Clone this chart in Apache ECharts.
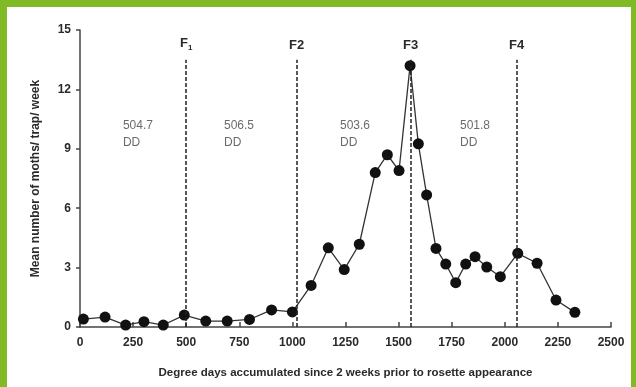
<!DOCTYPE html>
<html>
<head>
<meta charset="utf-8">
<script src="https://cdn.jsdelivr.net/npm/echarts@6/dist/echarts.min.js"></script>
<style>
  html, body { margin: 0; padding: 0; background: #80bb26; }
  #chart { position: absolute; left: 7px; top: 7px; width: 624px; height: 380px; background: #fff; }
</style>
</head>
<body>
<div id="chart"></div>
<script>
// degree days (x) and mean moths per trap per week (y)
var degreeDays = [16, 118, 215, 301, 392, 491, 592, 693, 798, 902, 1000, 1088, 1169, 1244, 1315, 1390,
  1447, 1502, 1554, 1593, 1632, 1676, 1722, 1769, 1816, 1860, 1915, 1979, 2061, 2152, 2241, 2330];
var moths = [0.4, 0.5, 0.1, 0.27, 0.1, 0.6, 0.3, 0.3, 0.38, 0.86, 0.76, 2.1, 4.0, 2.9, 4.18, 7.8,
  8.7, 7.9, 13.2, 9.25, 6.67, 3.97, 3.18, 2.24, 3.18, 3.55, 3.03, 2.54, 3.72, 3.22, 1.36, 0.74];

// flight peaks (dashed lines)
var flightX = [500, 1020, 1557, 2056];
var flightLabels = ['F{s|1}', 'F2', 'F3', 'F4'];
var flightTop = 13.5;

// degree-day interval notes
var ddX = [202, 678, 1224, 1789];
var ddY = 10.6;
var ddText = ['504.7', '506.5', '503.6', '501.8'];

var font = '"Liberation Sans Narrow", "Liberation Sans", Arial, sans-serif';

var points = degreeDays.map(function (d, i) { return [d, moths[i]]; });
var flightLines = flightX.map(function (x, i) {
  return [{ coord: [x, 0] }, { coord: [x, flightTop], label: { formatter: flightLabels[i] } }];
});
var ddPoints = ddX.map(function (x, i) { return { value: [x, ddY], name: ddText[i] }; });

var myChart = echarts.init(document.getElementById('chart'));
myChart.setOption({
  animation: false,
  grid: { left: 73, top: 23, right: 20, bottom: 60 },
  xAxis: {
    type: 'value',
    min: 0, max: 2500, interval: 250,
    name: 'Degree days accumulated since 2 weeks prior to rosette appearance',
    nameLocation: 'middle',
    nameGap: 40,
    nameTextStyle: { fontFamily: font, fontWeight: 'bold', fontSize: 11.5, color: '#2a2a2a' },
    axisLine: { show: true, lineStyle: { color: '#444', width: 1.5 } },
    axisTick: { show: true, inside: true, length: 5, lineStyle: { color: '#444', width: 1.5 } },
    axisLabel: {
      fontFamily: font, fontWeight: 'bold', fontSize: 12, color: '#2a2a2a', margin: 10,
      formatter: function (v) { return String(v); }
    },
    splitLine: { show: false }
  },
  yAxis: {
    type: 'value',
    min: 0, max: 15, interval: 3,
    name: 'Mean number of moths/ trap/ week',
    nameLocation: 'middle',
    nameGap: 38,
    nameTextStyle: { fontFamily: font, fontWeight: 'bold', fontSize: 12, color: '#2a2a2a' },
    axisLine: { show: true, lineStyle: { color: '#444', width: 1.5 } },
    axisTick: { show: true, length: 4, lineStyle: { color: '#444', width: 1.5 } },
    axisLabel: { fontFamily: font, fontWeight: 'bold', fontSize: 12, color: '#2a2a2a', margin: 9 },
    splitLine: { show: false }
  },
  series: [
    {
      type: 'line',
      data: points,
      symbol: 'circle',
      symbolSize: 11,
      lineStyle: { color: '#333', width: 1.3 },
      itemStyle: { color: '#111' },
      markLine: {
        silent: true,
        symbol: ['none', 'none'],
        lineStyle: { type: [4, 2], color: '#222', width: 1.5 },
        label: {
          show: true,
          position: 'end',
          distance: 8,
          fontFamily: font,
          fontWeight: 'bold',
          fontSize: 13,
          color: '#2a2a2a',
          rich: { s: { fontSize: 8, fontWeight: 'bold', fontFamily: font, verticalAlign: 'bottom', padding: [8, 0, 0, 0] } }
        },
        data: flightLines
      },
      z: 3
    },
    {
      type: 'scatter',
      data: ddPoints,
      symbolSize: 0,
      silent: true,
      label: {
        show: true,
        position: [0, 0],
        align: 'left',
        verticalAlign: 'top',
        formatter: function (p) { return p.name + '\nDD'; },
        fontFamily: '"Liberation Sans", Arial, sans-serif',
        fontSize: 12,
        lineHeight: 17,
        color: '#454545'
      }
    }
  ]
});
</script>
</body>
</html>
